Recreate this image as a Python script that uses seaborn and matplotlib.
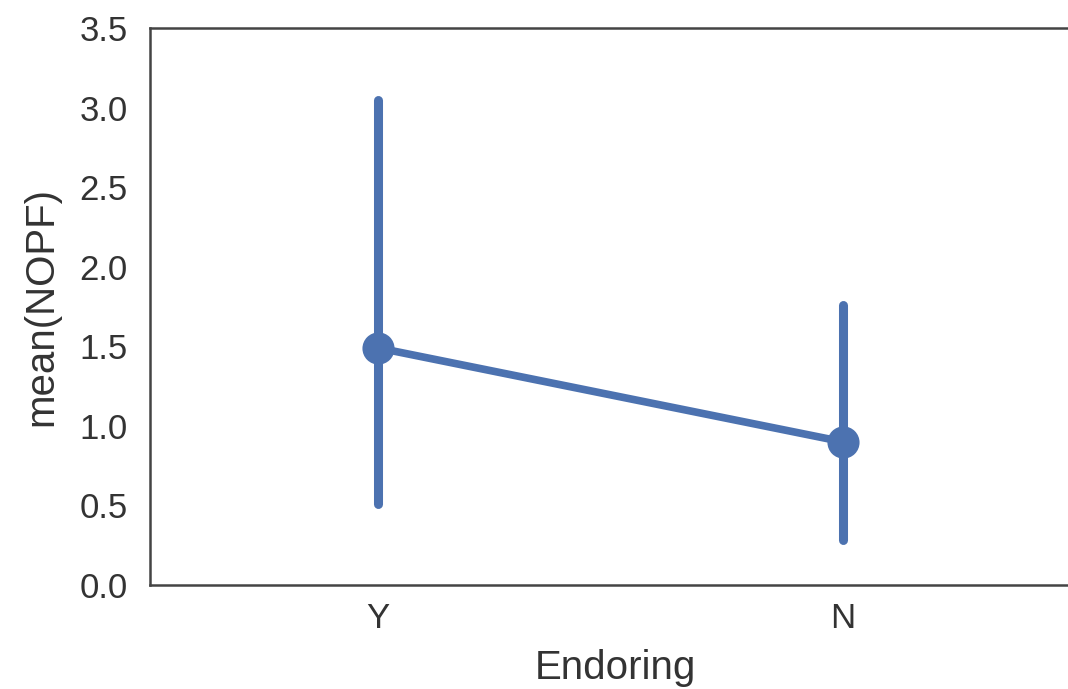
import pandas as pd
import seaborn as sns
import matplotlib.pyplot as plt

sns.set_style('white')
plt.rcParams['font.family'] = ['Liberation Sans', 'DejaVu Sans']

# values
categories = ['Y', 'N']
means = [1.49, 0.90]
ci_low = [0.51, 0.28]
ci_high = [3.05, 1.76]

# long table: low / mean / high per category, median gives the point, min-max gives the bar
rows = []
for c, lo, m, hi in zip(categories, ci_low, means, ci_high):
    for v in (lo, m, hi):
        rows.append({'Endoring': c, 'NOPF': v})
df = pd.DataFrame(rows)

fig = plt.figure(figsize=(10.68, 6.89), dpi=100)
ax = fig.add_axes([150 / 1068, (689 - 585) / 689, (1080 - 150) / 1068, (585 - 28) / 689])

sns.pointplot(data=df, x='Endoring', y='NOPF', order=categories,
              estimator='median', errorbar=lambda v: (v.min(), v.max()),
              color='#4C72B0', linewidth=5.5, markersize=19, err_kws={'linewidth': 6.5},
              ax=ax)

ax.set_ylim(0, 3.5)
ax.set_yticks([0, 0.5, 1.0, 1.5, 2.0, 2.5, 3.0, 3.5])
ax.set_xlim(-0.49, 1.51)
ax.set_ylabel('mean(NOPF)', fontsize=29, color='#333333', labelpad=14)
ax.set_xlabel('Endoring', fontsize=29, color='#333333', labelpad=10)
ax.tick_params(axis='both', labelsize=25, colors='#333333', length=0)
ax.tick_params(axis='y', pad=16)
ax.tick_params(axis='x', pad=12)
for s in ax.spines.values():
    s.set_color('#444444')
    s.set_linewidth(1.8)

plt.savefig('out.png', dpi=100)
